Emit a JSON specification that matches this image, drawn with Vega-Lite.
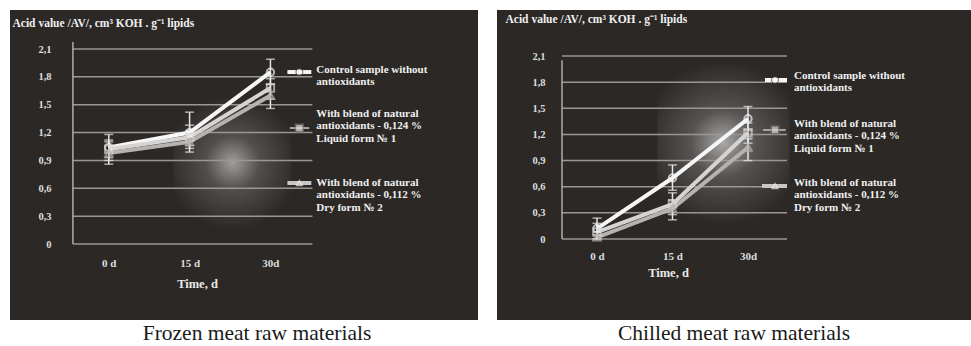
{
  "$schema": "https://vega.github.io/schema/vega-lite/v6.json",
  "padding": {"top": 10, "left": 10, "right": 0, "bottom": 0},
  "background": "#ffffff",
  "spacing": 19,
  "config": {"view": {"stroke": null, "fill": "#2b2826"}},
  "datasets": {
    "series": [
      {"panel": "frozen", "series": "control", "i": 0, "v": 1.04, "lo": 0.90, "hi": 1.18},
      {"panel": "frozen", "series": "control", "i": 1, "v": 1.20, "lo": 1.06, "hi": 1.42},
      {"panel": "frozen", "series": "control", "i": 2, "v": 1.85, "lo": 1.72, "hi": 1.99},
      {"panel": "frozen", "series": "liquid", "i": 0, "v": 1.02, "lo": 0.93, "hi": 1.12},
      {"panel": "frozen", "series": "liquid", "i": 1, "v": 1.15, "lo": 1.03, "hi": 1.28},
      {"panel": "frozen", "series": "liquid", "i": 2, "v": 1.68, "lo": 1.56, "hi": 1.78},
      {"panel": "frozen", "series": "dry", "i": 0, "v": 0.98, "lo": 0.86, "hi": 1.10},
      {"panel": "frozen", "series": "dry", "i": 1, "v": 1.10, "lo": 0.99, "hi": 1.22},
      {"panel": "frozen", "series": "dry", "i": 2, "v": 1.60, "lo": 1.46, "hi": 1.72},
      {"panel": "chilled", "series": "control", "i": 0, "v": 0.12, "lo": 0.05, "hi": 0.24},
      {"panel": "chilled", "series": "control", "i": 1, "v": 0.70, "lo": 0.56, "hi": 0.85},
      {"panel": "chilled", "series": "control", "i": 2, "v": 1.38, "lo": 1.25, "hi": 1.52},
      {"panel": "chilled", "series": "liquid", "i": 0, "v": 0.08, "lo": 0.00, "hi": 0.18},
      {"panel": "chilled", "series": "liquid", "i": 1, "v": 0.40, "lo": 0.28, "hi": 0.53},
      {"panel": "chilled", "series": "liquid", "i": 2, "v": 1.22, "lo": 1.10, "hi": 1.33},
      {"panel": "chilled", "series": "dry", "i": 0, "v": 0.02, "lo": 0.00, "hi": 0.08},
      {"panel": "chilled", "series": "dry", "i": 1, "v": 0.35, "lo": 0.22, "hi": 0.45},
      {"panel": "chilled", "series": "dry", "i": 2, "v": 1.05, "lo": 0.90, "hi": 1.15}
    ],
    "grid": [{"g": 0}, {"g": 0.3}, {"g": 0.6}, {"g": 0.9}, {"g": 1.2}, {"g": 1.5}, {"g": 1.8}, {"g": 2.1}],
    "one": [{"k": 1}]
  },
  "hconcat": [
    {
      "width": 468,
      "height": 310,
      "title": {"text": "Frozen meat raw materials", "orient": "bottom", "font": "Liberation Serif", "fontSize": 21.5, "fontWeight": "normal", "color": "#1a1a1a", "offset": 3, "dx": 13},
      "layer": [
        {
          "data": {"name": "one"},
          "mark": {"type": "rect", "stroke": null, "fill": {"gradient": "radial", "x1": 0.5, "y1": 0.5, "x2": 0.5, "y2": 0.5, "r1": 0, "r2": 0.5, "stops": [{"offset": 0, "color": "rgba(255,255,255,0.55)"}, {"offset": 0.4, "color": "rgba(255,255,255,0.18)"}, {"offset": 1, "color": "rgba(255,255,255,0)"}]}},
          "encoding": {
            "x": {"datum": 0.8, "type": "quantitative"},
            "x2": {"datum": 2.26},
            "y": {"datum": 0.15, "type": "quantitative"},
            "y2": {"datum": 1.6}
          }
        },
        {
          "data": {"name": "grid"},
          "mark": {"type": "rule", "color": "#9a9692", "strokeWidth": 1.5},
          "encoding": {
            "y": {"field": "g", "type": "quantitative", "scale": {"domain": [-0.818, 2.52], "nice": false, "zero": false},
              "axis": {"orient": "left", "offset": -63, "domain": false, "ticks": false, "grid": false, "values": [0, 0.3, 0.6, 0.9, 1.2, 1.5, 1.8, 2.1],
                "labelExpr": "datum.value == 0 ? '0' : replace(format(datum.value, '.1f'), '.', ',')",
                "labelColor": "#dedede", "labelFont": "Liberation Serif", "labelFontWeight": "bold", "labelFontSize": 10.5, "labelPadding": 22,
                "title": "Acid value /AV/, cm³ KOH . g⁻¹ lipids", "titleAngle": 0, "titleX": -61, "titleY": 13, "titleAlign": "left", "titleBaseline": "middle",
                "titleColor": "#f0f0f0", "titleFont": "Liberation Serif", "titleFontWeight": "bold", "titleFontSize": 11.5}},
            "x": {"datum": -0.444, "type": "quantitative", "scale": {"domain": [-1.222, 4.568], "nice": false, "zero": false},
              "axis": {"orient": "bottom", "offset": -76, "domain": false, "ticks": false, "grid": false, "values": [0, 1, 2],
                "labelExpr": "datum.value == 0 ? '0 d' : datum.value == 1 ? '15 d' : '30d'",
                "labelColor": "#dedede", "labelFont": "Liberation Serif", "labelFontWeight": "bold", "labelFontSize": 11, "labelPadding": 13,
                "title": "Time, d", "titleColor": "#e8e8e8", "titleFont": "Liberation Serif", "titleFontWeight": "bold", "titleFontSize": 12.5, "titlePadding": 9, "titleX": 187}},
            "x2": {"datum": 2.519}
          }
        },
        {
          "data": {"name": "one"},
          "mark": {"type": "rule", "color": "#b0aca8", "strokeWidth": 1.5},
          "encoding": {
            "x": {"datum": -0.444, "type": "quantitative"},
            "y": {"datum": 0, "type": "quantitative"},
            "y2": {"datum": 2.175}
          }
        },
        {
          "data": {"name": "series"},
          "transform": [{"filter": "datum.panel == 'frozen'"}],
          "mark": {"type": "rule", "color": "#e6e6e6", "strokeWidth": 1.5},
          "encoding": {
            "x": {"field": "i", "type": "quantitative"},
            "y": {"field": "lo", "type": "quantitative"},
            "y2": {"field": "hi"}
          }
        },
        {
          "data": {"name": "series"},
          "transform": [{"filter": "datum.panel == 'frozen'"}],
          "mark": {"type": "tick", "orient": "horizontal", "color": "#e6e6e6", "size": 9, "thickness": 1.5},
          "encoding": {
            "x": {"field": "i", "type": "quantitative"},
            "y": {"field": "lo", "type": "quantitative"}
          }
        },
        {
          "data": {"name": "series"},
          "transform": [{"filter": "datum.panel == 'frozen'"}],
          "mark": {"type": "tick", "orient": "horizontal", "color": "#e6e6e6", "size": 9, "thickness": 1.5},
          "encoding": {
            "x": {"field": "i", "type": "quantitative"},
            "y": {"field": "hi", "type": "quantitative"}
          }
        },
        {
          "data": {"name": "series"},
          "transform": [{"filter": "datum.panel == 'frozen'"}],
          "mark": {"type": "line", "strokeWidth": 4},
          "encoding": {
            "x": {"field": "i", "type": "quantitative"},
            "y": {"field": "v", "type": "quantitative"},
            "color": {"field": "series", "type": "nominal", "scale": {"domain": ["dry", "liquid", "control"], "range": ["#b5b2af", "#d6d4d2", "#f6f6f6"]}, "legend": null},
            "order": {"field": "i"}
          }
        },
        {
          "data": {"name": "series"},
          "transform": [{"filter": "datum.panel == 'frozen'"}],
          "mark": {"type": "point", "filled": false, "strokeWidth": 2, "size": 55},
          "encoding": {
            "x": {"field": "i", "type": "quantitative"},
            "y": {"field": "v", "type": "quantitative"},
            "color": {"field": "series", "type": "nominal", "scale": {"domain": ["dry", "liquid", "control"], "range": ["#b5b2af", "#d6d4d2", "#f6f6f6"]}, "legend": null},
            "shape": {"field": "series", "type": "nominal", "scale": {"domain": ["dry", "liquid", "control"], "range": ["triangle-up", "square", "circle"]}, "legend": null}
          }
        },
        {
          "data": {"name": "one"},
          "mark": {"type": "rule", "color": "#f6f6f6", "strokeWidth": 4},
          "encoding": {"x": {"datum": 2.21, "type": "quantitative"}, "x2": {"datum": 2.506}, "y": {"datum": 1.852, "type": "quantitative"}}
        },
        {
          "data": {"name": "one"},
          "mark": {"type": "point", "shape": "circle", "filled": true, "color": "#ffffff", "stroke": "#2b2826", "strokeWidth": 1, "size": 50},
          "encoding": {"x": {"datum": 2.358, "type": "quantitative"}, "y": {"datum": 1.852, "type": "quantitative"}}
        },
        {
          "data": {"name": "one"},
          "mark": {"type": "rule", "color": "#a8a5a2", "strokeWidth": 2},
          "encoding": {"x": {"datum": 2.24, "type": "quantitative"}, "x2": {"datum": 2.48}, "y": {"datum": 1.249, "type": "quantitative"}}
        },
        {
          "data": {"name": "one"},
          "mark": {"type": "point", "shape": "square", "filled": true, "color": "#e8e8e8", "stroke": "#777", "strokeWidth": 1.5, "size": 60},
          "encoding": {"x": {"datum": 2.358, "type": "quantitative"}, "y": {"datum": 1.249, "type": "quantitative"}}
        },
        {
          "data": {"name": "one"},
          "mark": {"type": "rule", "color": "#c9c7c5", "strokeWidth": 4},
          "encoding": {"x": {"datum": 2.21, "type": "quantitative"}, "x2": {"datum": 2.506}, "y": {"datum": 0.657, "type": "quantitative"}}
        },
        {
          "data": {"name": "one"},
          "mark": {"type": "point", "shape": "triangle-up", "filled": false, "color": "#eeeeee", "strokeWidth": 1.5, "size": 30},
          "encoding": {"x": {"datum": 2.358, "type": "quantitative"}, "y": {"datum": 0.657, "type": "quantitative"}}
        },
        {
          "data": {"name": "one"},
          "mark": {"type": "text", "align": "left", "baseline": "top", "lineBreak": "\n", "lineHeight": 12.4, "font": "Liberation Serif", "fontWeight": "bold", "fontSize": 11, "color": "#f0f0f0"},
          "encoding": {"x": {"datum": 2.568, "type": "quantitative"}, "y": {"datum": 1.938, "type": "quantitative"}, "text": {"value": "Control sample without\n antioxidants"}}
        },
        {
          "data": {"name": "one"},
          "mark": {"type": "text", "align": "left", "baseline": "top", "lineBreak": "\n", "lineHeight": 12.4, "font": "Liberation Serif", "fontWeight": "bold", "fontSize": 11, "color": "#f0f0f0"},
          "encoding": {"x": {"datum": 2.568, "type": "quantitative"}, "y": {"datum": 1.4646, "type": "quantitative"}, "text": {"value": "With blend of natural\nantioxidants - 0,124 %\nLiquid form № 1"}}
        },
        {
          "data": {"name": "one"},
          "mark": {"type": "text", "align": "left", "baseline": "top", "lineBreak": "\n", "lineHeight": 12.4, "font": "Liberation Serif", "fontWeight": "bold", "fontSize": 11, "color": "#f0f0f0"},
          "encoding": {"x": {"datum": 2.568, "type": "quantitative"}, "y": {"datum": 0.7215, "type": "quantitative"}, "text": {"value": "With blend of natural\nantioxidants - 0,112 %\nDry form № 2"}}
        }
      ]
    },
    {
      "width": 474,
      "height": 310,
      "title": {"text": "Chilled meat raw materials", "orient": "bottom", "font": "Liberation Serif", "fontSize": 21.5, "fontWeight": "normal", "color": "#1a1a1a", "offset": 3},
      "layer": [
        {
          "data": {"name": "one"},
          "mark": {"type": "rect", "stroke": null, "fill": {"gradient": "radial", "x1": 0.5, "y1": 0.5, "x2": 0.5, "y2": 0.5, "r1": 0, "r2": 0.5, "stops": [{"offset": 0, "color": "rgba(255,255,255,0.6)"}, {"offset": 0.4, "color": "rgba(255,255,255,0.2)"}, {"offset": 1, "color": "rgba(255,255,255,0)"}]}},
          "encoding": {
            "x": {"datum": 0.8, "type": "quantitative"},
            "x2": {"datum": 2.55},
            "y": {"datum": 0.15, "type": "quantitative"},
            "y2": {"datum": 2.05}
          }
        },
        {
          "data": {"name": "grid"},
          "mark": {"type": "rule", "color": "#9a9692", "strokeWidth": 1.5},
          "encoding": {
            "y": {"field": "g", "type": "quantitative", "scale": {"domain": [-0.9295, 2.628], "nice": false, "zero": false},
              "axis": {"orient": "left", "offset": -65, "domain": false, "ticks": false, "grid": false, "values": [0, 0.3, 0.6, 0.9, 1.2, 1.5, 1.8, 2.1],
                "labelExpr": "datum.value == 0 ? '0' : replace(format(datum.value, '.1f'), '.', ',')",
                "labelColor": "#dedede", "labelFont": "Liberation Serif", "labelFontWeight": "bold", "labelFontSize": 10.5, "labelPadding": 17,
                "title": "Acid value /AV/, cm³ KOH . g⁻¹ lipids", "titleAngle": 0, "titleX": -57, "titleY": 9, "titleAlign": "left", "titleBaseline": "middle",
                "titleColor": "#f0f0f0", "titleFont": "Liberation Serif", "titleFontWeight": "bold", "titleFontSize": 11.5}},
            "x": {"datum": -0.4636, "type": "quantitative", "scale": {"domain": [-1.3245, 4.954], "nice": false, "zero": false},
              "axis": {"orient": "bottom", "offset": -81, "domain": false, "ticks": false, "grid": false, "values": [0, 1, 2],
                "labelExpr": "datum.value == 0 ? '0 d' : datum.value == 1 ? '15 d' : '30d'",
                "labelColor": "#dedede", "labelFont": "Liberation Serif", "labelFontWeight": "bold", "labelFontSize": 11, "labelPadding": 11,
                "title": "Time, d", "titleColor": "#e8e8e8", "titleFont": "Liberation Serif", "titleFontWeight": "bold", "titleFontSize": 12.5, "titlePadding": 5, "titleX": 171}},
            "x2": {"datum": 2.5166}
          }
        },
        {
          "data": {"name": "one"},
          "mark": {"type": "rule", "color": "#b0aca8", "strokeWidth": 1.5},
          "encoding": {
            "x": {"datum": -0.4636, "type": "quantitative"},
            "y": {"datum": 0, "type": "quantitative"},
            "y2": {"datum": 2.05}
          }
        },
        {
          "data": {"name": "series"},
          "transform": [{"filter": "datum.panel == 'chilled'"}],
          "mark": {"type": "rule", "color": "#e6e6e6", "strokeWidth": 1.5},
          "encoding": {
            "x": {"field": "i", "type": "quantitative"},
            "y": {"field": "lo", "type": "quantitative"},
            "y2": {"field": "hi"}
          }
        },
        {
          "data": {"name": "series"},
          "transform": [{"filter": "datum.panel == 'chilled'"}],
          "mark": {"type": "tick", "orient": "horizontal", "color": "#e6e6e6", "size": 9, "thickness": 1.5},
          "encoding": {
            "x": {"field": "i", "type": "quantitative"},
            "y": {"field": "lo", "type": "quantitative"}
          }
        },
        {
          "data": {"name": "series"},
          "transform": [{"filter": "datum.panel == 'chilled'"}],
          "mark": {"type": "tick", "orient": "horizontal", "color": "#e6e6e6", "size": 9, "thickness": 1.5},
          "encoding": {
            "x": {"field": "i", "type": "quantitative"},
            "y": {"field": "hi", "type": "quantitative"}
          }
        },
        {
          "data": {"name": "series"},
          "transform": [{"filter": "datum.panel == 'chilled'"}],
          "mark": {"type": "line", "strokeWidth": 4},
          "encoding": {
            "x": {"field": "i", "type": "quantitative"},
            "y": {"field": "v", "type": "quantitative"},
            "color": {"field": "series", "type": "nominal", "scale": {"domain": ["dry", "liquid", "control"], "range": ["#b5b2af", "#d6d4d2", "#f6f6f6"]}, "legend": null},
            "order": {"field": "i"}
          }
        },
        {
          "data": {"name": "series"},
          "transform": [{"filter": "datum.panel == 'chilled'"}],
          "mark": {"type": "point", "filled": false, "strokeWidth": 2, "size": 55},
          "encoding": {
            "x": {"field": "i", "type": "quantitative"},
            "y": {"field": "v", "type": "quantitative"},
            "color": {"field": "series", "type": "nominal", "scale": {"domain": ["dry", "liquid", "control"], "range": ["#b5b2af", "#d6d4d2", "#f6f6f6"]}, "legend": null},
            "shape": {"field": "series", "type": "nominal", "scale": {"domain": ["dry", "liquid", "control"], "range": ["triangle-up", "square", "circle"]}, "legend": null}
          }
        },
        {
          "data": {"name": "one"},
          "mark": {"type": "rule", "color": "#f6f6f6", "strokeWidth": 4},
          "encoding": {"x": {"datum": 2.225, "type": "quantitative"}, "x2": {"datum": 2.517}, "y": {"datum": 1.825, "type": "quantitative"}}
        },
        {
          "data": {"name": "one"},
          "mark": {"type": "point", "shape": "circle", "filled": true, "color": "#ffffff", "stroke": "#2b2826", "strokeWidth": 1, "size": 50},
          "encoding": {"x": {"datum": 2.358, "type": "quantitative"}, "y": {"datum": 1.825, "type": "quantitative"}}
        },
        {
          "data": {"name": "one"},
          "mark": {"type": "rule", "color": "#a8a5a2", "strokeWidth": 2},
          "encoding": {"x": {"datum": 2.2, "type": "quantitative"}, "x2": {"datum": 2.5}, "y": {"datum": 1.251, "type": "quantitative"}}
        },
        {
          "data": {"name": "one"},
          "mark": {"type": "point", "shape": "square", "filled": true, "color": "#d8d8d8", "stroke": "#777", "strokeWidth": 1.5, "size": 60},
          "encoding": {"x": {"datum": 2.358, "type": "quantitative"}, "y": {"datum": 1.251, "type": "quantitative"}}
        },
        {
          "data": {"name": "one"},
          "mark": {"type": "rule", "color": "#c9c7c5", "strokeWidth": 4},
          "encoding": {"x": {"datum": 2.185, "type": "quantitative"}, "x2": {"datum": 2.517}, "y": {"datum": 0.608, "type": "quantitative"}}
        },
        {
          "data": {"name": "one"},
          "mark": {"type": "point", "shape": "triangle-up", "filled": false, "color": "#eeeeee", "strokeWidth": 1.5, "size": 30},
          "encoding": {"x": {"datum": 2.358, "type": "quantitative"}, "y": {"datum": 0.608, "type": "quantitative"}}
        },
        {
          "data": {"name": "one"},
          "mark": {"type": "text", "align": "left", "baseline": "top", "lineBreak": "\n", "lineHeight": 12.3, "font": "Liberation Serif", "fontWeight": "bold", "fontSize": 11, "color": "#f0f0f0"},
          "encoding": {"x": {"datum": 2.609, "type": "quantitative"}, "y": {"datum": 1.939, "type": "quantitative"}, "text": {"value": "Control sample without\n antioxidants"}}
        },
        {
          "data": {"name": "one"},
          "mark": {"type": "text", "align": "left", "baseline": "top", "lineBreak": "\n", "lineHeight": 12.3, "font": "Liberation Serif", "fontWeight": "bold", "fontSize": 11, "color": "#f0f0f0"},
          "encoding": {"x": {"datum": 2.609, "type": "quantitative"}, "y": {"datum": 1.389, "type": "quantitative"}, "text": {"value": "With blend of natural\nantioxidants - 0,124 %\nLiquid form № 1"}}
        },
        {
          "data": {"name": "one"},
          "mark": {"type": "text", "align": "left", "baseline": "top", "lineBreak": "\n", "lineHeight": 12.3, "font": "Liberation Serif", "fontWeight": "bold", "fontSize": 11, "color": "#f0f0f0"},
          "encoding": {"x": {"datum": 2.609, "type": "quantitative"}, "y": {"datum": 0.7115, "type": "quantitative"}, "text": {"value": "With blend of natural\nantioxidants - 0,112 %\nDry form № 2"}}
        }
      ]
    }
  ]
}
